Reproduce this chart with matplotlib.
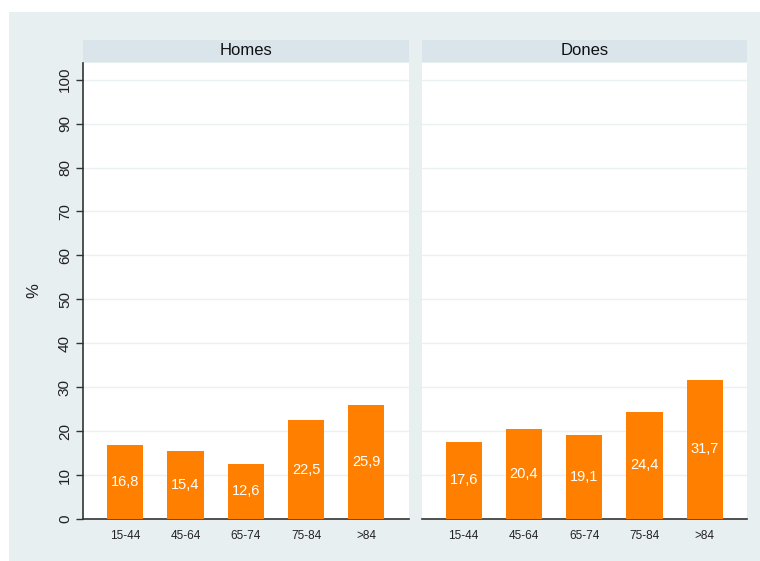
import matplotlib.pyplot as plt
from matplotlib.patches import Rectangle

plt.rcParams['font.family'] = ['Liberation Sans', 'DejaVu Sans']

# data
groups = ['15-44', '45-64', '65-74', '75-84', '>84']
homes = [16.8, 15.4, 12.6, 22.5, 25.9]
dones = [17.6, 20.4, 19.1, 24.4, 31.7]
panels = [('Homes', homes), ('Dones', dones)]

W, H = 760, 561
BG = '#e8eff1'
STRIP = '#d9e5eb'
ORANGE = '#ff8000'
GRID = '#eaf1f3'

fig = plt.figure(figsize=(W / 100, H / 100), dpi=100)
fig.patch.set_facecolor('white')
fig.patches.append(Rectangle((9 / W, 0), 1, 1 - 12 / H, transform=fig.transFigure,
                             facecolor=BG, edgecolor='none', zorder=-10))


def px(x0, y0, x1, y1):
    # pixel box -> figure fraction [left, bottom, width, height]
    return [x0 / W, 1 - y1 / H, (x1 - x0) / W, (y1 - y0) / H]


lefts = [83, 421.5]
pw = 325.5
x = list(range(len(groups)))

for i, (name, vals) in enumerate(panels):
    x0 = lefts[i]
    ax = fig.add_axes(px(x0, 62.5, x0 + pw, 519))
    ax.set_facecolor('white')
    bars = ax.bar(x, vals, width=0.6, color=ORANGE, zorder=3)
    for b, v in zip(bars, vals):
        ax.text(b.get_x() + b.get_width() / 2, v / 2, ('%.1f' % v).replace('.', ','),
                ha='center', va='center', color='white', fontsize=10.5, zorder=4)
    ax.set_xlim(-0.7, len(groups) - 0.3)
    ax.set_ylim(0, 103.9)
    ax.set_yticks(range(0, 101, 10))
    for t in range(10, 101, 10):
        ax.axhline(t, color=GRID, lw=1, zorder=1)
    ax.set_xticks(x)
    ax.set_xticklabels(groups, fontsize=8.5, color='#222222')
    ax.tick_params(axis='x', length=0, pad=8)
    for s in ['top', 'right']:
        ax.spines[s].set_visible(False)
    ax.spines['bottom'].set_color('#333333')
    ax.spines['bottom'].set_linewidth(1.2)
    if i == 0:
        ax.spines['left'].set_color('#333333')
        ax.spines['left'].set_linewidth(1.2)
        ax.tick_params(axis='y', length=5, width=1, color='#333333', labelsize=11,
                       labelcolor='#222222', pad=3)
        for lab in ax.get_yticklabels():
            lab.set_rotation(90)
            lab.set_va('center')
        ax.set_ylabel('%', fontsize=12, color='#222222', labelpad=12)
    else:
        ax.spines['left'].set_visible(False)
        ax.set_yticks([])

    # title strip
    sax = fig.add_axes(px(x0, 40, x0 + pw, 61.5))
    sax.set_facecolor(STRIP)
    sax.set_xticks([])
    sax.set_yticks([])
    for s in sax.spines.values():
        s.set_visible(False)
    sax.text(0.5, 0.5, name, ha='center', va='center', fontsize=12, color='#111111',
             transform=sax.transAxes)

fig.savefig('out.png', dpi=100, facecolor=fig.get_facecolor())
